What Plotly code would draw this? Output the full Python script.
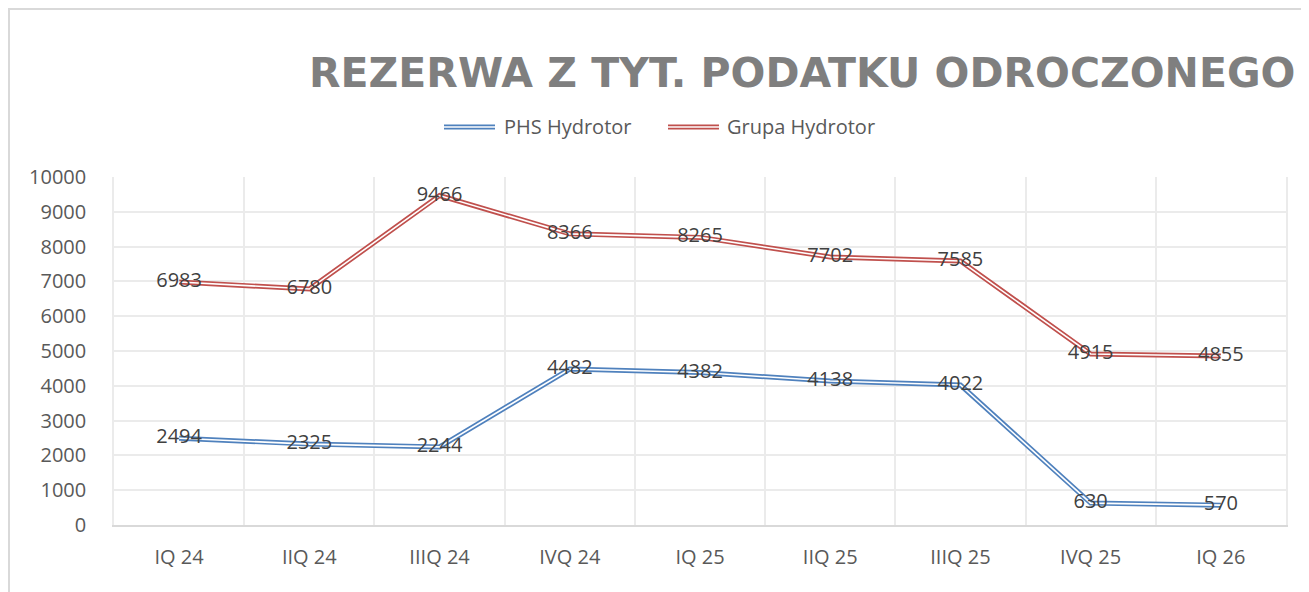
import plotly.graph_objects as go

categories = ["IQ 24", "IIQ 24", "IIIQ 24", "IVQ 24", "IQ 25", "IIQ 25", "IIIQ 25", "IVQ 25", "IQ 26"]
phs_values = [2494, 2325, 2244, 4482, 4382, 4138, 4022, 630, 570]
grupa_values = [6983, 6780, 9466, 8366, 8265, 7702, 7585, 4915, 4855]
series_names = ["PHS Hydrotor", "Grupa Hydrotor"]
y_ticks = list(range(0, 10001, 1000))
y_tick_text = [str(v) for v in y_ticks]

OFF = 8  # page body margin
W, H = 1309 - OFF, 592 - OFF
L, R, T, B = 114 - OFF, 23, 177 - OFF, 67
PW, PH = W - L - R, H - T - B

def px_x(x):  # screen pixel -> paper
    return (x - OFF - L) / PW

def px_y(y):
    return 1 + (T - (y - OFF)) / PH

BLUE = "#4f81bd"
RED = "#c0504d"
FONT = "Open Sans"

fig = go.Figure()
for vals, col, name in [(phs_values, BLUE, series_names[0]), (grupa_values, RED, series_names[1])]:
    fig.add_trace(go.Scatter(x=categories, y=vals, mode="lines", line=dict(color=col, width=5),
                             name=name, showlegend=False, hoverinfo="skip"))
    fig.add_trace(go.Scatter(x=categories, y=vals, mode="lines", line=dict(color="white", width=1.6),
                             showlegend=False, hoverinfo="skip"))
for vals in [phs_values, grupa_values]:
    fig.add_trace(go.Scatter(x=categories, y=vals, mode="text", text=[str(v) for v in vals],
                             textposition="middle center",
                             textfont=dict(family=FONT, size=20, color="#404040"),
                             showlegend=False, hoverinfo="skip"))

shapes = []
annotations = []
# chart border
shapes.append(dict(type="rect", xref="paper", yref="paper", x0=px_x(9), x1=px_x(1330),
                   y0=px_y(620), y1=px_y(9), line=dict(color="#d9d9d9", width=2), layer="below"))
# legend
leg = [(444, 495, 502, BLUE, series_names[0]), (668, 719, 725, RED, series_names[1])]
for x0, x1, tx, col, name in leg:
    shapes.append(dict(type="line", xref="paper", yref="paper", x0=px_x(x0), x1=px_x(x1),
                       y0=px_y(127), y1=px_y(127), line=dict(color=col, width=5)))
    shapes.append(dict(type="line", xref="paper", yref="paper", x0=px_x(x0), x1=px_x(x1),
                       y0=px_y(127), y1=px_y(127), line=dict(color="white", width=1.6)))
    annotations.append(dict(text=name, xref="paper", yref="paper", x=px_x(tx), y=px_y(127),
                            xanchor="left", yanchor="middle", showarrow=False,
                            font=dict(family=FONT, size=20, color="#595959")))
# title
annotations.append(dict(text="<b>REZERWA Z TYT. PODATKU ODROCZONEGO</b>", xref="paper", yref="paper",
                        x=px_x(802), y=px_y(73), xanchor="center", yanchor="middle", showarrow=False,
                        font=dict(family="DejaVu Sans", size=41, color="#7f7f7f")))

fig.update_layout(
    width=W, height=H,
    margin=dict(l=L, r=R, t=T, b=B, autoexpand=False),
    paper_bgcolor="white", plot_bgcolor="white",
    showlegend=False,
    shapes=shapes, annotations=annotations,
    xaxis=dict(type="category", range=[-0.5, len(categories) - 0.5],
               categoryorder="array", categoryarray=categories,
               tickson="boundaries", showgrid=True, gridcolor="#ebebeb", gridwidth=1.5,
               showline=True, linecolor="#d9d9d9", linewidth=1.5, ticks="", zeroline=False,
               ticklabelstandoff=13,
               tickfont=dict(family=FONT, size=20, color="#595959")),
    yaxis=dict(range=[0, 10000], tickmode="array", tickvals=y_ticks, ticktext=y_tick_text,
               showgrid=True, gridcolor="#ebebeb", gridwidth=1.5, zeroline=False,
               showline=True, mirror=True, linecolor="#ebebeb", linewidth=1.5,
               ticks="", ticklabelstandoff=22,
               tickfont=dict(family=FONT, size=20, color="#595959")),
)

fig.write_html("out.html")
